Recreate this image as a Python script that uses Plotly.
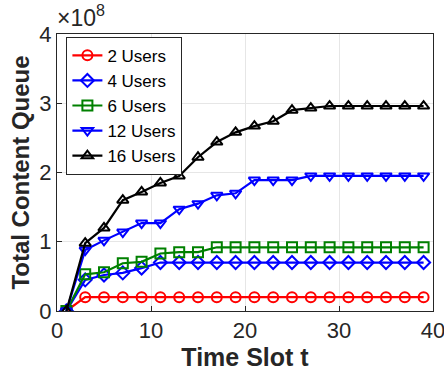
import plotly.graph_objects as go

t = list(range(1, 40, 2))
# values in units of 1e8
users2 = [0] + [0.2] * 19
users4 = [0, 0.45, 0.52, 0.55, 0.62, 0.70] + [0.70] * 14
users6 = [0, 0.53, 0.56, 0.69, 0.71, 0.83, 0.85, 0.85, 0.92] + [0.92] * 11
users12 = [0, 0.88, 1.02, 1.14, 1.27, 1.27, 1.47, 1.55, 1.67, 1.70, 1.89, 1.89, 1.89, 1.95] + [1.95] * 6
users16 = [0, 0.98, 1.20, 1.60, 1.72, 1.85, 1.95, 2.22, 2.44, 2.58, 2.67, 2.74, 2.90, 2.93] + [2.96] * 6

series = [
    ("2 Users", users2, "#FF0000", "circle-open"),
    ("4 Users", users4, "#0000FF", "diamond-open"),
    ("6 Users", users6, "#008000", "square-open"),
    ("12 Users", users12, "#0000FF", "triangle-down-open"),
    ("16 Users", users16, "#000000", "triangle-up-open"),
]

fig = go.Figure()
for name, vals, color, sym in series:
    fig.add_trace(go.Scatter(
        x=t, y=vals, name=name, mode="lines+markers",
        line=dict(color=color, width=2.2),
        marker=dict(symbol=sym, size=10, color=color, line=dict(width=2, color=color)),
    ))

axis_common = dict(
    showline=True, linecolor="#262626", linewidth=1, mirror=True,
    ticks="inside", ticklen=5, tickcolor="#262626",
    showgrid=True, gridcolor="#E6E6E6", gridwidth=1, zeroline=False,
    tickfont=dict(family="Liberation Sans, Arial", size=22, color="#262626"),
    automargin=False, ticklabeloverflow="allow",
)

fig.update_layout(
    width=444, height=380,
    margin=dict(l=57, r=11, t=34, b=69),
    paper_bgcolor="white", plot_bgcolor="white",
    font=dict(family="Liberation Sans, Arial", color="#262626"),
    xaxis=dict(range=[0, 40], tickvals=[0, 10, 20, 30, 40],
               title=dict(text="<b>Time Slot t</b>", font=dict(size=25), standoff=6),
               **axis_common),
    yaxis=dict(range=[0, 4], tickvals=[0, 1, 2, 3, 4],
               title=dict(text="<b>Total Content Queue</b>", font=dict(size=24), standoff=2),
               **axis_common),
    legend=dict(x=0.025, y=0.99, xanchor="left", yanchor="top",
                bgcolor="white", bordercolor="#262626", borderwidth=1,
                font=dict(size=17, color="black"), tracegroupgap=0,
                itemwidth=30),
    showlegend=True,
)

fig.add_annotation(xref="paper", yref="paper", x=0, y=1.0, xanchor="left", yanchor="bottom",
                   text="×10<sup>8</sup>", showarrow=False,
                   font=dict(size=23, color="#262626"), yshift=1, xshift=-2)

fig.write_html("out.html", post_script="document.body.style.margin='0';",
               config={"displayModeBar": False})
